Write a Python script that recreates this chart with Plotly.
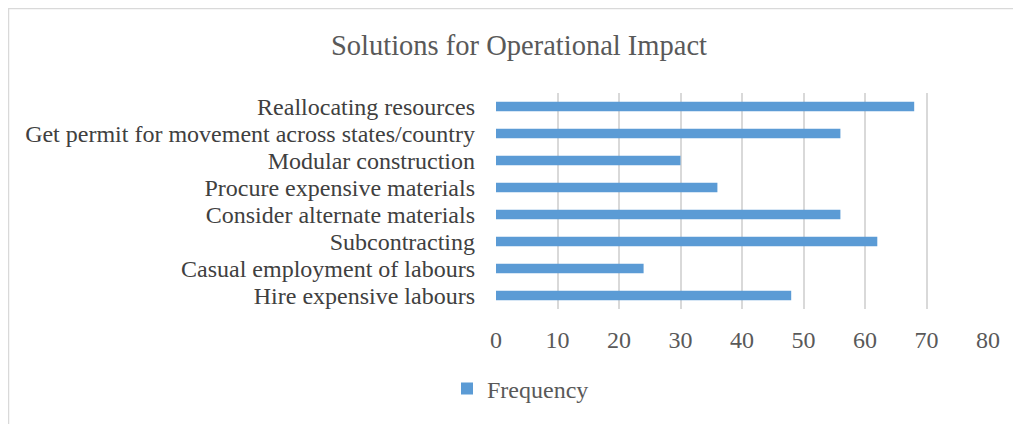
import plotly.graph_objects as go

categories = [
    "Hire expensive labours",
    "Casual employment of labours",
    "Subcontracting",
    "Consider alternate materials",
    "Procure expensive materials",
    "Modular construction",
    "Get permit for movement across states/country",
    "Reallocating resources",
]
frequency = [48, 24, 62, 56, 36, 30, 56, 68]
x_ticks = [0, 10, 20, 30, 40, 50, 60, 70, 80]

FONT = "Liberation Serif, Times New Roman, serif"

fig = go.Figure()
fig.add_trace(go.Bar(
    y=categories, x=frequency, orientation="h", name="Frequency",
    marker=dict(color="#5b9bd5", line=dict(width=0)),
    width=0.36,
))

W, H = 1021, 424
L, R, T, B = 488, 41, 85, 123
pw, ph = W - L - R, H - T - B

def px_to_paper_x(px):
    return (px - L) / pw

def px_to_paper_y(py):
    return (H - B - py) / ph

fig.add_shape(type="rect", xref="paper", yref="paper",
              x0=px_to_paper_x(0.5), x1=px_to_paper_x(1030),
              y0=px_to_paper_y(440), y1=px_to_paper_y(0.5),
              line=dict(color="#d9d9d9", width=1.5), fillcolor="rgba(0,0,0,0)",
              layer="below")

fig.update_layout(
    width=W, height=H,
    margin=dict(l=L, r=R, t=T, b=B),
    paper_bgcolor="white", plot_bgcolor="white",
    font=dict(family=FONT, color="#595959"),
    title=dict(text="Solutions for Operational Impact", x=(519 - 8) / W, xref="container",
               xanchor="center", y=1 - 37 / H, yref="container", yanchor="middle",
               font=dict(family=FONT, size=28.5, color="#595959")),
    xaxis=dict(range=[0, 80], tickmode="array", tickvals=x_ticks, showgrid=True,
               gridcolor="#d9d9d9", gridwidth=2, zeroline=False, showline=False, ticks="",
               tickfont=dict(family=FONT, size=24, color="#595959"),
               ticklabelstandoff=14, fixedrange=True),
    yaxis=dict(showgrid=False, zeroline=False, showline=False, ticks="",
               tickmode="array", tickvals=categories, ticktext=categories,
               tickfont=dict(family=FONT, size=24, color="#404040"),
               ticklabelstandoff=20, range=[-0.5, 7.5]),
    showlegend=True,
    legend=dict(orientation="h", xref="container", yref="container",
                x=(447 - 8) / W, y=1 - 381 / H, xanchor="left", yanchor="middle",
                font=dict(family=FONT, size=24, color="#595959"),
                itemwidth=30),
)

fig.write_html("out.html")
